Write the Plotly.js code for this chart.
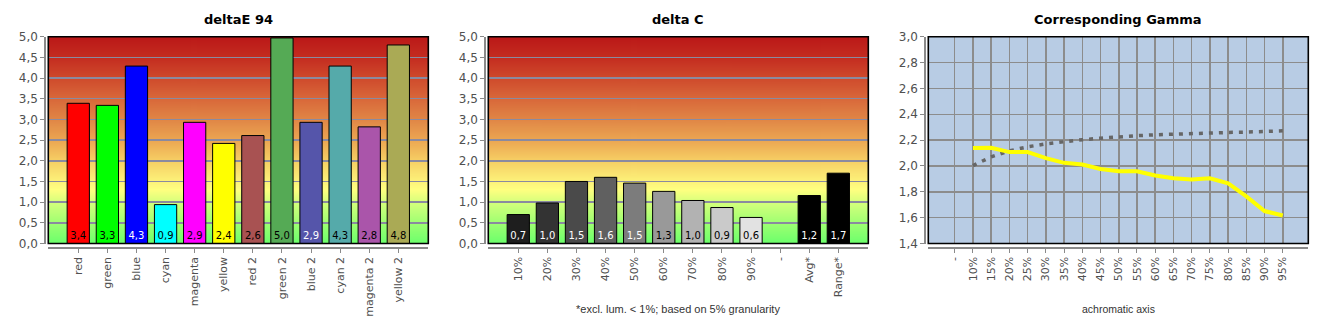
<!DOCTYPE html>
<html>
<head>
<meta charset="utf-8">
<script src="https://cdn.plot.ly/plotly-3.0.1.min.js"></script>
<style>html,body{margin:0;padding:0;background:#fff;}#chart{width:1330px;height:330px;}</style>
</head>
<body>
<div id="chart"></div>
<script>
// ---- data ----
const deCats = ['red','green','blue','cyan','magenta','yellow','red 2','green 2','blue 2','cyan 2','magenta 2','yellow 2'];
const deVals = [3.39,3.34,4.29,0.94,2.93,2.42,2.61,4.97,2.93,4.29,2.82,4.80];
const deColors = ['#ff0000','#00ff00','#0000ff','#00ffff','#ff00ff','#ffff00','#a85252','#55aa55','#5555aa','#55aaaa','#aa55aa','#aaaa55'];
const deTextColors = ['#000','#000','#fff','#000','#000','#000','#000','#000','#fff','#000','#000','#000'];

const dcCats = ['10%','20%','30%','40%','50%','60%','70%','80%','90%','-','Avg*','Range*'];
const dcVals = [0.70,0.98,1.50,1.60,1.46,1.26,1.04,0.87,0.63,null,1.16,1.70];
const dcColors = ['#1e1e1e','#333333','#4a4a4a','#606060','#7c7c7c','#999999','#b2b2b2','#cacaca','#e2e2e2','#000','#000000','#000000'];
const dcTextColors = ['#fff','#fff','#fff','#fff','#fff','#000','#000','#000','#000','#000','#fff','#fff'];

const gCats = ['-','10%','15%','20%','25%','30%','35%','40%','45%','50%','55%','60%','65%','70%','75%','80%','85%','90%','95%'];
const gMeasured = [null,2.138,2.14,2.107,2.107,2.06,2.024,2.011,1.977,1.959,1.959,1.926,1.905,1.895,1.905,1.866,1.765,1.651,1.617];
const gReference = [null,2.003,2.07,2.117,2.148,2.171,2.19,2.203,2.215,2.226,2.234,2.241,2.247,2.249,2.254,2.259,2.262,2.27,2.272];

// ---- gradient background image ----
function gradientURL(){
  const c = document.createElement('canvas');
  c.width = 4; c.height = 400;
  const ctx = c.getContext('2d');
  const g = ctx.createLinearGradient(0,0,0,400);
  g.addColorStop(0.00,'#bb1818');
  g.addColorStop(0.10,'#c42c20');
  g.addColorStop(0.20,'#cf4a2c');
  g.addColorStop(0.30,'#d9683a');
  g.addColorStop(0.40,'#e08646');
  g.addColorStop(0.50,'#eca652');
  g.addColorStop(0.60,'#f6cf64');
  g.addColorStop(0.70,'#fdf27a');
  g.addColorStop(0.74,'#ffff80');
  g.addColorStop(0.80,'#d6ff7c');
  g.addColorStop(0.90,'#a0ff72');
  g.addColorStop(1.00,'#6cff6c');
  ctx.fillStyle = g; ctx.fillRect(0,0,4,400);
  return c.toDataURL('image/png');
}
const grad = gradientURL();

const W = 1330, H = 330;
const dom1 = [48.3/W, 428.3/W], dom2 = [488.3/W, 868.3/W], dom3 = [928.3/W, 1308.3/W];
const yd = [1-243.5/H, 1-36.7/H];
const fontTickY = {family:'DejaVu Sans, sans-serif', size:12, color:'#505050'};
const fontTickX = {family:'DejaVu Sans, sans-serif', size:11, color:'#505050'};

function yax(range, dtick, pos, fmt, gridcolor){
  return {range:range, dtick:dtick, tickformat:fmt, domain:yd, anchor:'free', position:pos,
    showline:true, linecolor:'#8a8a8a', linewidth:1.5, ticks:'outside', ticklen:4, tickcolor:'#8a8a8a',
    showgrid:true, gridcolor:gridcolor, gridwidth:1.5, zeroline:false, tickfont:fontTickY, fixedrange:true};
}
function xax(dom, range, grid){
  return {domain:dom, range:range, type:'category', anchor:'free', position:1-247/H,
    showline:true, linecolor:'#8a8a8a', linewidth:1.5, ticks:'outside', ticklen:4, tickcolor:'#8a8a8a',
    showgrid:grid, gridcolor:'#8c8c8c', gridwidth:1.5, tickangle:-90, tickfont:fontTickX, zeroline:false, fixedrange:true};
}

const traces = [
  {type:'bar', x:deCats, y:deVals, xaxis:'x', yaxis:'y', width:0.765,
   marker:{color:deColors, line:{color:'#000', width:1}},
   texttemplate:'%{y:.1f}', textposition:'inside', insidetextanchor:'start', textangle:0, constraintext:'none',
   textfont:{family:'DejaVu Sans, sans-serif', size:10, color:deTextColors}, hoverinfo:'none'},
  {type:'bar', x:dcCats, y:dcVals, xaxis:'x2', yaxis:'y2', width:0.765,
   marker:{color:dcColors, line:{color:'#000', width:1}},
   texttemplate:'%{y:.1f}', textposition:'inside', insidetextanchor:'start', textangle:0, constraintext:'none',
   textfont:{family:'DejaVu Sans, sans-serif', size:10, color:dcTextColors}, hoverinfo:'none'},
  {type:'scatter', mode:'lines', x:gCats, y:gReference, xaxis:'x3', yaxis:'y3',
   line:{color:'#666666', width:3.5, dash:'4px,6px'}, hoverinfo:'none'},
  {type:'scatter', mode:'lines', x:gCats, y:gMeasured, xaxis:'x3', yaxis:'y3',
   line:{color:'#ffff00', width:4}, hoverinfo:'none'}
];

function box(xr, yr){
  return {type:'rect', xref:xr+' domain', yref:yr+' domain', x0:0, x1:1, y0:0, y1:1, line:{color:'#000', width:1.6}, layer:'above'};
}

const layout = {
  width:W, height:H, margin:{l:0,r:0,t:0,b:0}, showlegend:false,
  paper_bgcolor:'#ffffff', plot_bgcolor:'rgba(0,0,0,0)', separators:',.',
  xaxis: xax(dom1, [-1.03, 12.03], false),
  yaxis: yax([0,5], 0.5, 44.3/W, '.1f', '#8a8aa0'),
  xaxis2: xax(dom2, [-1.03, 12.03], false),
  yaxis2: yax([0,5], 0.5, 484.3/W, '.1f', '#8a8aa0'),
  xaxis3: xax(dom3, [-1.45, 19.4], true),
  yaxis3: yax([1.4,3.0], 0.2, 924.3/W, '.1f', '#8c8c8c'),
  images: [
    {source:grad, xref:'paper', yref:'paper', x:dom1[0], y:yd[1], sizex:dom1[1]-dom1[0], sizey:yd[1]-yd[0], sizing:'stretch', xanchor:'left', yanchor:'top', layer:'below'},
    {source:grad, xref:'paper', yref:'paper', x:dom2[0], y:yd[1], sizex:dom2[1]-dom2[0], sizey:yd[1]-yd[0], sizing:'stretch', xanchor:'left', yanchor:'top', layer:'below'}
  ],
  shapes: [
    {type:'rect', xref:'x3 domain', yref:'y3 domain', x0:0, x1:1, y0:0, y1:1, fillcolor:'#b8cce4', line:{width:0}, layer:'below'},
    box('x','y'), box('x2','y2'), box('x3','y3')
  ],
  annotations: [
    {text:'<b>deltaE 94</b>', xref:'paper', yref:'paper', x:(dom1[0]+dom1[1])/2, y:1-20/H, xanchor:'center', yanchor:'middle', showarrow:false, font:{family:'DejaVu Sans, sans-serif', size:13, color:'#000'}},
    {text:'<b>delta C</b>', xref:'paper', yref:'paper', x:(dom2[0]+dom2[1])/2, y:1-20/H, xanchor:'center', yanchor:'middle', showarrow:false, font:{family:'DejaVu Sans, sans-serif', size:13, color:'#000'}},
    {text:'<b>Corresponding Gamma</b>', xref:'paper', yref:'paper', x:(dom3[0]+dom3[1])/2, y:1-20/H, xanchor:'center', yanchor:'middle', showarrow:false, font:{family:'DejaVu Sans, sans-serif', size:13, color:'#000'}},
    {text:'*excl. lum. &lt; 1%; based on 5% granularity', xref:'paper', yref:'paper', x:(dom2[0]+dom2[1])/2, y:1-309/H, xanchor:'center', yanchor:'middle', showarrow:false, font:{family:'Liberation Sans, sans-serif', size:11, color:'#333'}},
    {text:'achromatic axis', xref:'paper', yref:'paper', x:(dom3[0]+dom3[1])/2, y:1-309/H, xanchor:'center', yanchor:'middle', showarrow:false, font:{family:'Liberation Sans, sans-serif', size:10.5, color:'#333'}}
  ]
};

Plotly.newPlot('chart', traces, layout, {displayModeBar:false, staticPlot:true});
</script>
</body>
</html>
